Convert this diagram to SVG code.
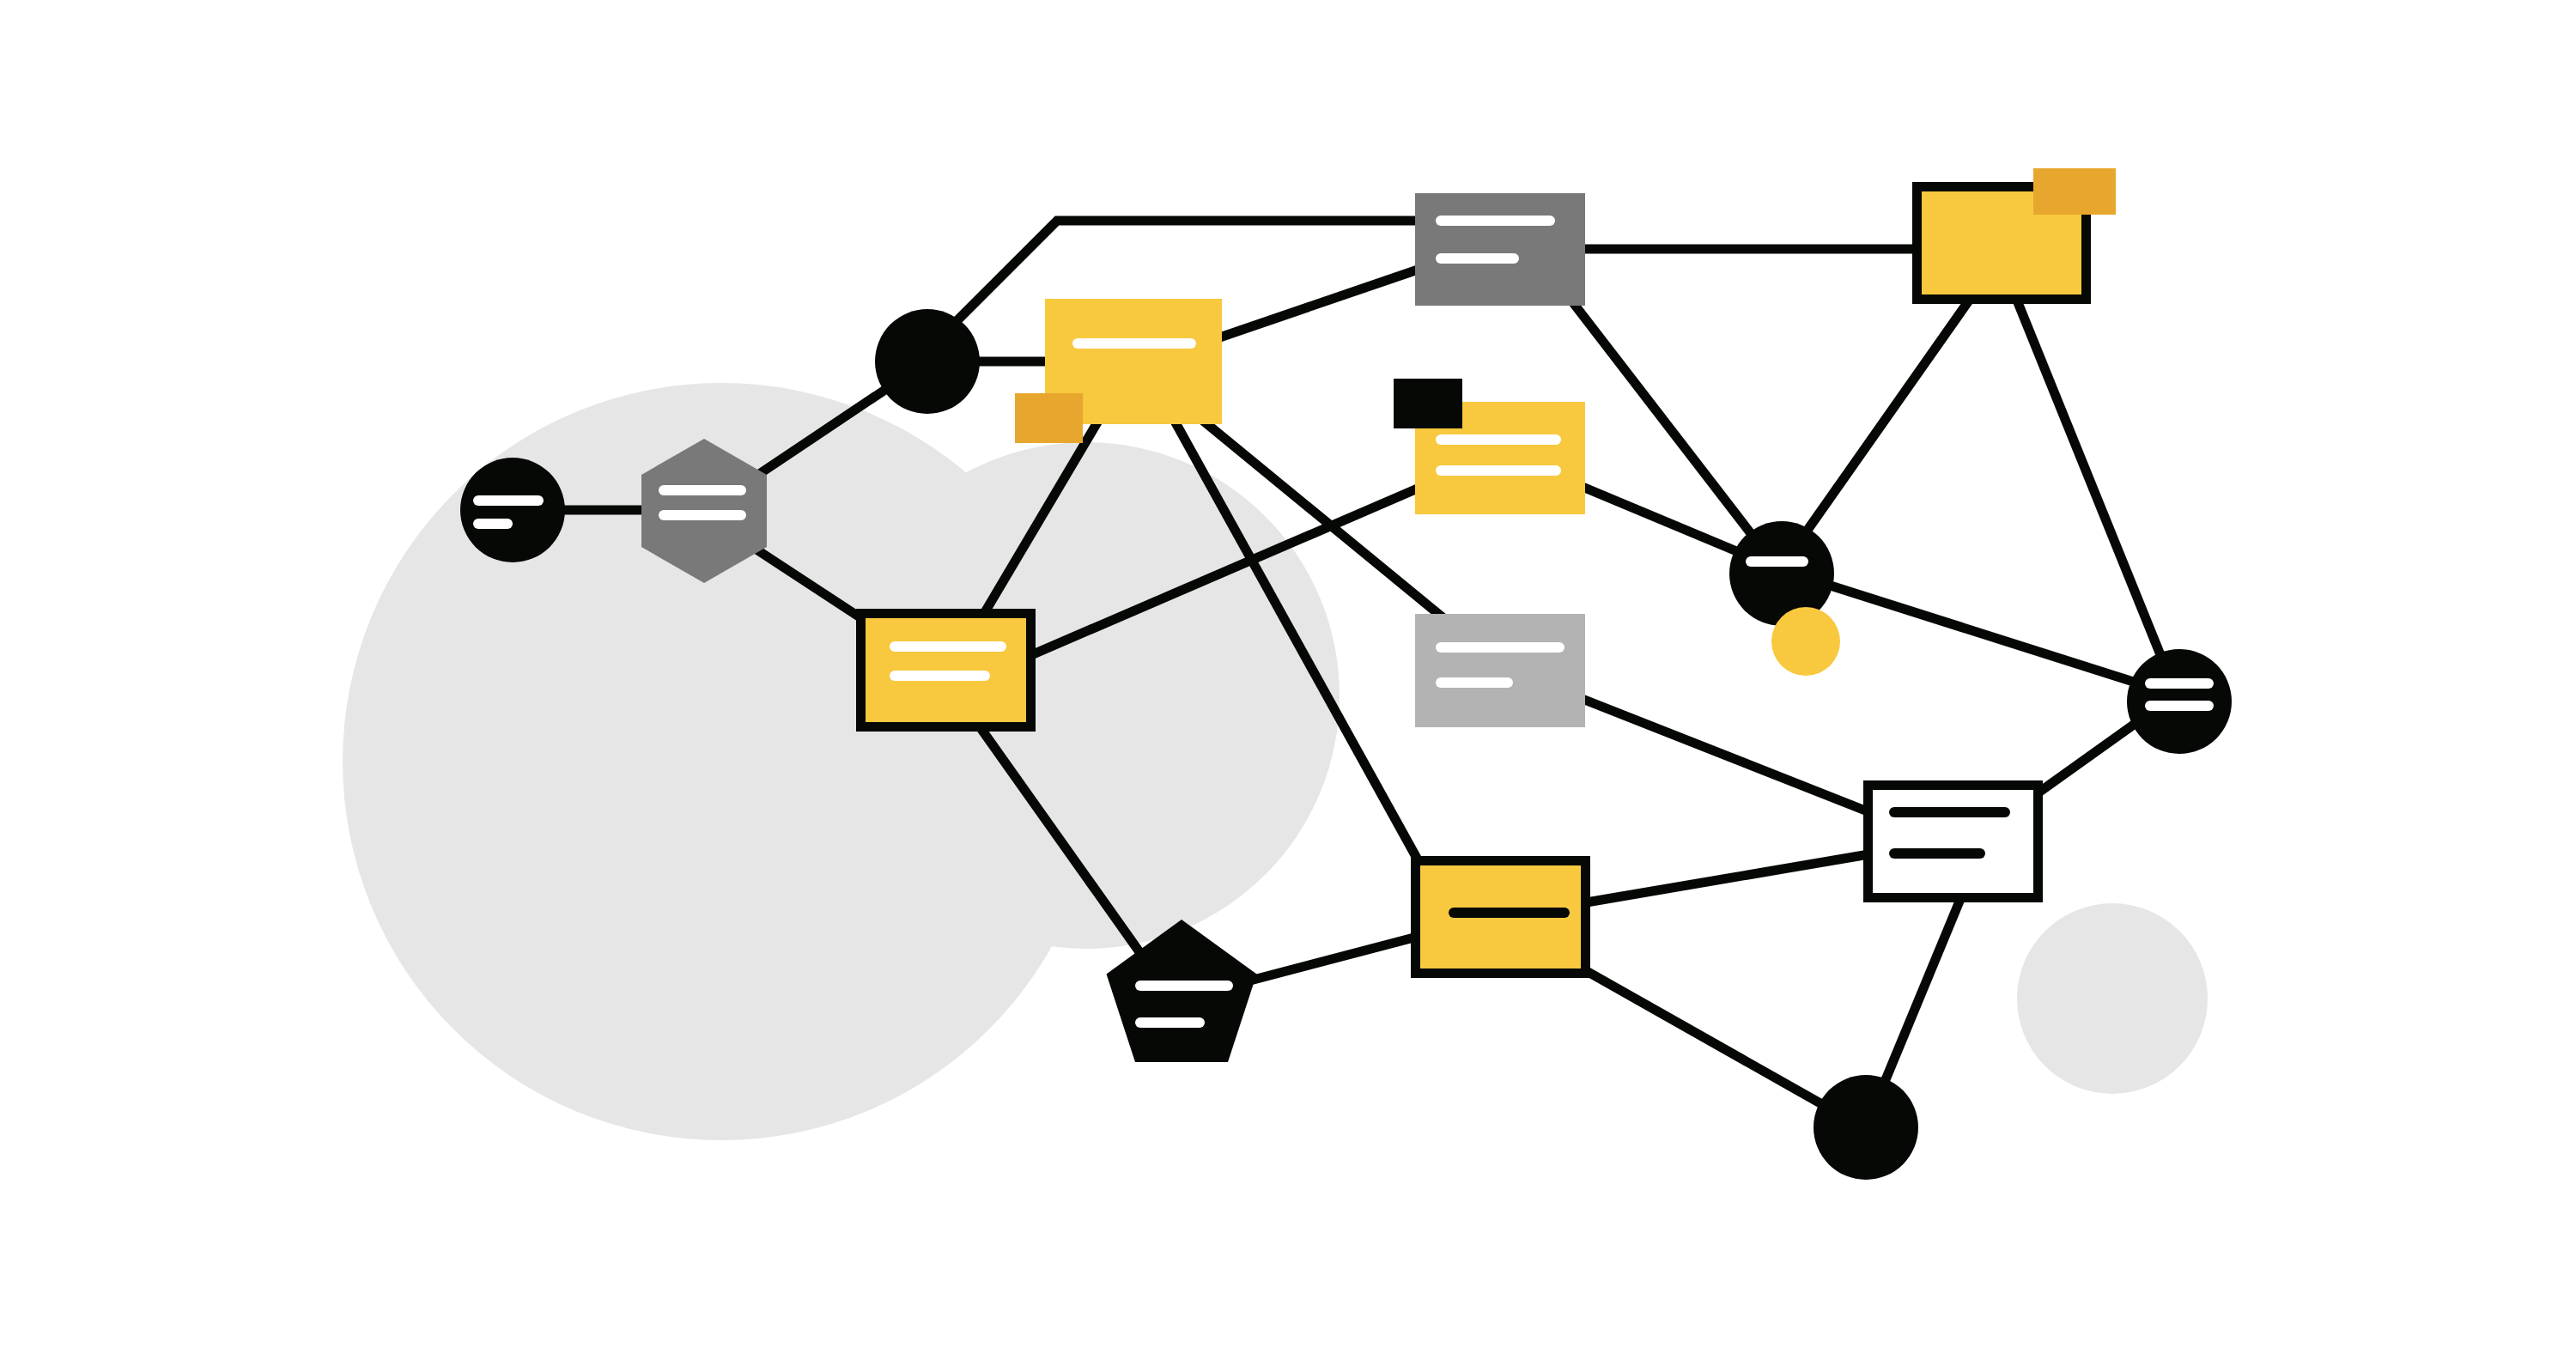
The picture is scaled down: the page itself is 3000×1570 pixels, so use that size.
<svg xmlns="http://www.w3.org/2000/svg" width="3000" height="1570" viewBox="0 0 3000 1570">
<style>
.bg{fill:#E6E6E6}
.ln{stroke:#060806;stroke-width:11;fill:none;stroke-linejoin:miter}
.blk{fill:#060806}
.yel{fill:#F8C83F}
.org{fill:#E7A72E}
.gry{fill:#797979}
.lgry{fill:#B3B3B3}
.bord{stroke:#060806;stroke-width:11}
.wbar{stroke:#FFFFFF;stroke-width:12;stroke-linecap:round}
.kbar{stroke:#060806;stroke-width:12;stroke-linecap:round}
</style>
<rect x="0" y="0" width="3000" height="1570" fill="#FFFFFF"/>
<g id="background">
<circle class="bg" cx="840" cy="887" r="441"/>
<circle class="bg" cx="1265" cy="810" r="295"/>
<circle class="bg" cx="2460" cy="1163" r="111"/>
</g>
<g id="connectors">
<line class="ln" x1="597" y1="594" x2="820" y2="594"/>
<line class="ln" x1="820" y1="595" x2="1080" y2="421"/>
<line class="ln" x1="820" y1="600" x2="1003" y2="720"/>
<polyline class="ln" points="1095,393 1231,257 1700,257"/>
<line class="ln" x1="1080" y1="421" x2="1300" y2="421"/>
<line class="ln" x1="1320" y1="421" x2="1131" y2="740"/>
<line class="ln" x1="1360" y1="476" x2="1652" y2="1003"/>
<line class="ln" x1="1395" y1="485" x2="1680" y2="719"/>
<line class="ln" x1="1400" y1="400" x2="1660" y2="311"/>
<line class="ln" x1="1180" y1="772" x2="1660" y2="565"/>
<line class="ln" x1="1135" y1="838" x2="1335" y2="1120"/>
<line class="ln" x1="1376" y1="1163" x2="1700" y2="1078"/>
<line class="ln" x1="1846" y1="290" x2="2232" y2="290"/>
<line class="ln" x1="1820" y1="337" x2="2075" y2="668"/>
<line class="ln" x1="1800" y1="549" x2="2075" y2="664"/>
<line class="ln" x1="2300" y1="340" x2="2075" y2="660"/>
<line class="ln" x1="2345" y1="340" x2="2538" y2="817"/>
<line class="ln" x1="2075" y1="664" x2="2538" y2="811"/>
<line class="ln" x1="1820" y1="805" x2="2190" y2="951"/>
<line class="ln" x1="2370" y1="926" x2="2538" y2="806"/>
<line class="ln" x1="1830" y1="1054" x2="2200" y2="991"/>
<line class="ln" x1="1830" y1="1121" x2="2173" y2="1315"/>
<line class="ln" x1="2286" y1="1040" x2="2173" y2="1313"/>
</g>
<g id="node-circle-left">
<circle class="blk" cx="597" cy="594" r="61"/>
<line class="wbar" x1="557" y1="583" x2="627" y2="583"/>
<line class="wbar" x1="557" y1="610" x2="591" y2="610"/>
</g>
<g id="node-hexagon">
<polygon class="gry" points="820,511 893,553 893,637 820,679 747,637 747,553"/>
<line class="wbar" x1="773" y1="571" x2="863" y2="571"/>
<line class="wbar" x1="773" y1="600" x2="863" y2="600"/>
</g>
<g id="node-circle-top">
<circle class="blk" cx="1080" cy="421" r="61"/>
</g>
<g id="node-yellow-top">
<rect class="yel" x="1217" y="348" width="206" height="146"/>
<line class="wbar" x1="1255" y1="400" x2="1387" y2="400"/>
<rect class="org" x="1182" y="458" width="79" height="58"/>
</g>
<g id="node-yellow-left">
<rect class="yel bord" x="1002.5" y="714.5" width="198" height="132"/>
<line class="wbar" x1="1042" y1="753" x2="1166" y2="753"/>
<line class="wbar" x1="1042" y1="787" x2="1147" y2="787"/>
</g>
<g id="node-pentagon">
<polygon class="blk" points="1376,1071 1463.5,1134.6 1430,1237 1322,1237 1288.5,1134.6"/>
<line class="wbar" x1="1328" y1="1148" x2="1430" y2="1148"/>
<line class="wbar" x1="1328" y1="1191" x2="1397" y2="1191"/>
</g>
<g id="node-gray-top">
<rect class="gry" x="1648" y="225" width="198" height="131"/>
<line class="wbar" x1="1678" y1="257" x2="1805" y2="257"/>
<line class="wbar" x1="1678" y1="301" x2="1763" y2="301"/>
</g>
<g id="node-yellow-mid">
<rect class="yel" x="1648" y="468" width="198" height="131"/>
<line class="wbar" x1="1678" y1="512" x2="1812" y2="512"/>
<line class="wbar" x1="1678" y1="548" x2="1812" y2="548"/>
<rect class="blk" x="1623" y="441" width="80" height="58"/>
</g>
<g id="node-lightgray">
<rect class="lgry" x="1648" y="715" width="198" height="132"/>
<line class="wbar" x1="1678" y1="754" x2="1816" y2="754"/>
<line class="wbar" x1="1678" y1="795" x2="1756" y2="795"/>
</g>
<g id="node-yellow-bottom">
<rect class="yel bord" x="1648.5" y="1002.5" width="198" height="131"/>
<line class="kbar" x1="1693" y1="1063" x2="1822" y2="1063"/>
</g>
<g id="node-yellow-topright">
<rect class="yel bord" x="2232.5" y="217.5" width="197" height="131"/>
<rect class="org" x="2368" y="196" width="96" height="54"/>
</g>
<g id="node-circle-mid">
<circle class="blk" cx="2075" cy="668" r="61"/>
<line class="wbar" x1="2039" y1="654" x2="2100" y2="654"/>
<circle class="yel" cx="2103" cy="747" r="40"/>
</g>
<g id="node-circle-right">
<circle class="blk" cx="2538" cy="817" r="61"/>
<line class="wbar" x1="2504" y1="796" x2="2572" y2="796"/>
<line class="wbar" x1="2504" y1="822" x2="2572" y2="822"/>
</g>
<g id="node-white-box">
<rect class="bord" fill="#FFFFFF" x="2175.5" y="914.5" width="198" height="131"/>
<line class="kbar" x1="2206" y1="946" x2="2335" y2="946"/>
<line class="kbar" x1="2206" y1="994" x2="2306" y2="994"/>
</g>
<g id="node-circle-bottom">
<circle class="blk" cx="2173" cy="1313" r="61"/>
</g>
</svg>
